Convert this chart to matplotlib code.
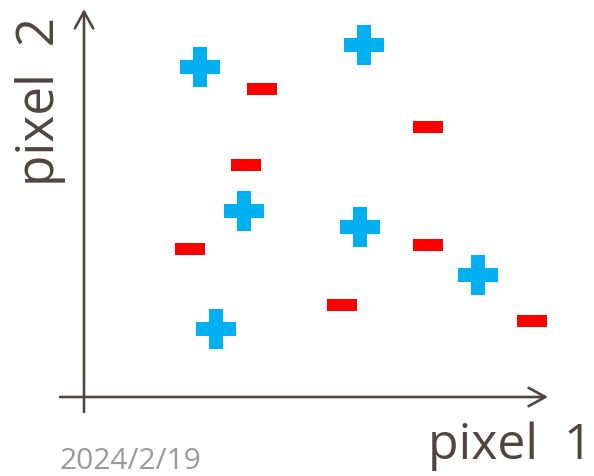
import matplotlib
matplotlib.use("Agg")
import matplotlib.pyplot as plt
from matplotlib.path import Path

# Data (chart units)
plus_x = [2.9, 7.0, 4.0, 6.9, 9.85, 3.3]
plus_y = [8.25, 8.8, 4.65, 4.25, 3.05, 1.7]
minus_x = [4.45, 8.6, 4.05, 2.65, 8.6, 6.45, 11.2]
minus_y = [7.7, 6.75, 5.8, 3.7, 3.8, 2.3, 1.9]
x_label = "pixel  1"
y_label = "pixel  2"
date_text = "2024/2/19"

AX = "#4f4644"
PLUS_C = "#00b0f0"
MINUS_C = "#ff0000"
FONT = ["Open Sans", "DejaVu Sans"]

fig = plt.figure(figsize=(5.94, 4.77), dpi=100)
ax = fig.add_axes([0, 0, 1, 1])
ax.set_xlim(-2.1, 12.75)
ax.set_ylim(-1.975, 9.95)
ax.axis("off")

# axes arrows
arrow = dict(arrowstyle="->,head_length=0.6,head_width=0.33", mutation_scale=20,
             lw=1.9, color=AX, shrinkA=0, shrinkB=0)
ax.annotate("", xy=(0, 9.7), xytext=(0, -0.375), arrowprops=arrow)
ax.annotate("", xy=(11.6, 0), xytext=(-0.6, 0), arrowprops=arrow)

# markers
minus_marker = Path([(-15, -6), (15, -6), (15, 6), (-15, 6), (-15, -6)],
                    [Path.MOVETO, Path.LINETO, Path.LINETO, Path.LINETO, Path.CLOSEPOLY])
ax.plot(plus_x, plus_y, linestyle="none", marker="P", markersize=28.5,
        markerfacecolor=PLUS_C, markeredgewidth=0)
ax.plot(minus_x, minus_y, linestyle="none", marker=minus_marker, markersize=21.8,
        markerfacecolor=MINUS_C, markeredgewidth=0)

# labels
fig.text(0.998, 0.012, x_label, ha="right", va="bottom", fontsize=36, color=AX, family=FONT)
fig.text(0.025, 0.965, y_label, ha="left", va="top", rotation=90, fontsize=37, color=AX, family=FONT)
fig.text(0.1, 0.016, date_text, ha="left", va="baseline", fontsize=21.5, color="#9a9a9a", family=FONT)

fig.savefig("out.png", dpi=100, facecolor="white")
